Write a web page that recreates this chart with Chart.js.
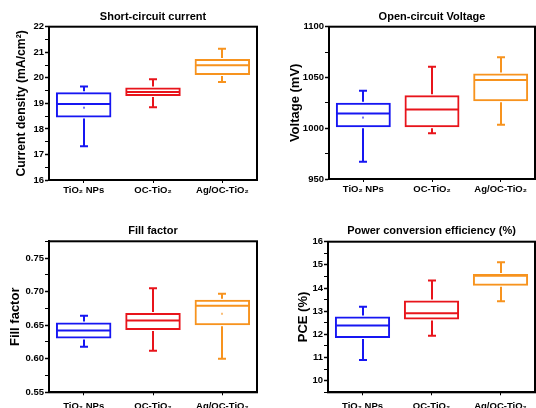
<!DOCTYPE html>
<html>
<head>
<meta charset="utf-8">
<script src="https://cdn.jsdelivr.net/npm/chart.js@4.4.1/dist/chart.umd.min.js"></script>
<style>
  html, body { margin: 0; padding: 0; background: #fff; }
  body { width: 536px; height: 408px; position: relative; overflow: hidden; }
  canvas { position: absolute; }
</style>
</head>
<body>
<canvas id="jsc" width="268" height="204" style="left:0;top:0"></canvas>
<canvas id="voc" width="268" height="204" style="left:268px;top:0"></canvas>
<canvas id="ff" width="268" height="222" style="left:0;top:204px"></canvas>
<canvas id="pce" width="268" height="222" style="left:268px;top:204px"></canvas>
<script>
const groups = ["TiO₂ NPs", "OC-TiO₂", "Ag/OC-TiO₂"]
const colors = ["#1616f2", "#e8141b", "#f7931e"]

// short-circuit current (mA/cm2)
const jscMin = [17.32, 18.85, 19.84]
const jscQ1 = [18.45, 19.29, 20.11]
const jscMedian = [18.97, 19.44, 20.49]
const jscQ3 = [19.43, 19.62, 20.74]
const jscMax = [19.66, 19.94, 21.14]
const jscMean = [18.83, null, null]
const jscTicks = [16, 17, 18, 19, 20, 21, 22]

// open-circuit voltage (mV)
const vocMin = [967, 995, 1003.5]
const vocQ1 = [1001, 1001, 1026.5]
const vocMedian = [1014.5, 1018.5, 1047.5]
const vocQ3 = [1025, 1032.5, 1054]
const vocMax = [1037, 1060.5, 1070]
const vocMean = [1010.5, null, null]
const vocTicks = [950, 1000, 1050, 1100]

// fill factor
const ffMin = [0.618, 0.612, 0.600]
const ffQ1 = [0.630, 0.643, 0.650]
const ffMedian = [0.642, 0.657, 0.679]
const ffQ3 = [0.654, 0.668, 0.688]
const ffMax = [0.664, 0.705, 0.697]
const ffMean = [null, null, 0.667]
const ffTicks = [0.55, 0.60, 0.65, 0.70, 0.75]

// power conversion efficiency (%)
const pceMin = [10.89, 11.94, 13.43]
const pceQ1 = [11.84, 12.64, 14.10]
const pceMedian = [12.38, 12.91, 14.53]
const pceQ3 = [12.77, 13.46, 14.61]
const pceMax = [13.19, 14.32, 15.11]
const pceMean = [null, null, null]
const pceTicks = [10, 11, 12, 13, 14, 15, 16]

const fontFamily = "'Liberation Sans', Arial, sans-serif"

const boxPlugin = {
    id: "boxes",
    afterDatasetsDraw(chart) {
        const p = chart.options.plugins.boxes
        const ctx = chart.ctx
        const a = chart.chartArea
        const y = chart.scales.y
        const meta = chart.getDatasetMeta(0)
        ctx.save()
        ctx.lineWidth = 2
        ctx.lineCap = "butt"
        meta.data.forEach((bar, i) => {
            const cx = Math.round(bar.x)
            const half = bar.width / 2
            const cap = 4
            const yq1 = y.getPixelForValue(p.q1[i])
            const yq3 = y.getPixelForValue(p.q3[i])
            const ymed = y.getPixelForValue(p.median[i])
            const ymin = y.getPixelForValue(p.min[i])
            const ymax = y.getPixelForValue(p.max[i])
            ctx.strokeStyle = colors[i]
            ctx.beginPath()
            ctx.moveTo(cx - half + 1, ymed); ctx.lineTo(cx + half - 1, ymed)
            ctx.moveTo(cx, yq3 - 1); ctx.lineTo(cx, ymax)
            ctx.moveTo(cx, yq1 + 1); ctx.lineTo(cx, ymin)
            ctx.moveTo(cx - cap, ymax); ctx.lineTo(cx + cap, ymax)
            ctx.moveTo(cx - cap, ymin); ctx.lineTo(cx + cap, ymin)
            ctx.stroke()
            if (p.mean[i] != null) {
                ctx.fillStyle = colors[i]
                ctx.globalAlpha = 0.6
                ctx.fillRect(cx - 1, y.getPixelForValue(p.mean[i]) - 1, 2, 2)
                ctx.globalAlpha = 1
            }
        })
        ctx.strokeStyle = "#000"
        ctx.strokeRect(a.left, a.top, a.right - a.left, a.bottom - a.top)
        ctx.restore()
    }
}

function makeChart(id, cfg) {
    const majors = cfg.ticks
    new Chart(document.getElementById(id), {
        type: "bar",
        data: {
            labels: groups,
            datasets: [{
                data: cfg.q1.map((v, i) => [v, cfg.q3[i]]),
                backgroundColor: "rgba(255,255,255,0)",
                borderColor: colors,
                borderWidth: 2,
                borderSkipped: false,
                barPercentage: 0.8,
                categoryPercentage: 1
            }]
        },
        options: {
            responsive: false,
            animation: false,
            devicePixelRatio: 1,
            layout: { padding: { left: 0, right: cfg.padRight, top: 0, bottom: 0 } },
            plugins: {
                legend: { display: false },
                tooltip: { enabled: false },
                title: {
                    display: true,
                    text: cfg.title,
                    fullSize: false,
                    color: "#000",
                    font: { family: fontFamily, size: 11, weight: "bold", lineHeight: 1.2 },
                    padding: { top: cfg.titleTop, bottom: cfg.titleBottom }
                },
                boxes: { min: cfg.min, q1: cfg.q1, median: cfg.median, q3: cfg.q3, max: cfg.max, mean: cfg.mean }
            },
            scales: {
                x: {
                    grid: { display: true, offset: false, drawOnChartArea: false, drawTicks: true, tickLength: 3, color: "#000", tickWidth: 1 },
                    border: { display: true, color: "#000", width: 2 },
                    ticks: { color: "#000", padding: cfg.xPad, font: { family: fontFamily, size: 9.5, weight: "bold" }, maxRotation: 0, autoSkip: false },
                    afterFit: axis => { axis.height = cfg.xHeight }
                },
                y: {
                    min: cfg.yMin,
                    max: cfg.yMax,
                    grid: {
                        display: true, drawOnChartArea: false, drawTicks: true, tickLength: 4, color: "#000",
                        tickWidth: c => majors.some(m => Math.abs(m - c.tick.value) < 1e-6) ? 1.5 : 1
                    },
                    border: { display: true, color: "#000", width: 2 },
                    ticks: {
                        stepSize: cfg.step,
                        maxTicksLimit: 100,
                        autoSkip: false,
                        color: "#000",
                        padding: 1,
                        font: { family: fontFamily, size: 9.5, weight: "bold" },
                        callback: v => {
                            const m = majors.find(t => Math.abs(t - v) < 1e-6)
                            return m === undefined ? "" : m.toFixed(cfg.decimals)
                        }
                    },
                    title: {
                        display: true,
                        text: cfg.yTitle,
                        color: "#000",
                        font: { family: fontFamily, size: cfg.yTitleSize, weight: "bold", lineHeight: 1.2 },
                        padding: { top: cfg.yTitlePad, bottom: 0 }
                    },
                    afterFit: axis => { axis.width = cfg.yWidth }
                }
            }
        },
        plugins: [boxPlugin]
    })
}

makeChart("jsc", {
    title: "Short-circuit current", yTitle: "Current density (mA/cm²)",
    min: jscMin, q1: jscQ1, median: jscMedian, q3: jscQ3, max: jscMax, mean: jscMean, ticks: jscTicks,
    yMin: 16, yMax: 22, step: 0.5, decimals: 0,
    yWidth: 49, padRight: 11, titleTop: 10.4, titleBottom: 3.1, xHeight: 24, xPad: 2, yTitlePad: 14.5, yTitleSize: 12.2
})
makeChart("voc", {
    title: "Open-circuit Voltage", yTitle: "Voltage (mV)",
    min: vocMin, q1: vocQ1, median: vocMedian, q3: vocQ3, max: vocMax, mean: vocMean, ticks: vocTicks,
    yMin: 950, yMax: 1100, step: 25, decimals: 0,
    yWidth: 61, padRight: 1, titleTop: 10.4, titleBottom: 3.1, xHeight: 25, xPad: 2, yTitlePad: 20, yTitleSize: 13
})
makeChart("ff", {
    title: "Fill factor", yTitle: "Fill factor",
    min: ffMin, q1: ffQ1, median: ffMedian, q3: ffQ3, max: ffMax, mean: ffMean, ticks: ffTicks,
    yMin: 0.55, yMax: 0.775, step: 0.025, decimals: 2,
    yWidth: 49, padRight: 11, titleTop: 20.1, titleBottom: 4, xHeight: 33.7, xPad: 5, yTitlePad: 7.5, yTitleSize: 13
})
makeChart("pce", {
    title: "Power conversion efficiency (%)", yTitle: "PCE (%)",
    min: pceMin, q1: pceQ1, median: pceMedian, q3: pceQ3, max: pceMax, mean: pceMean, ticks: pceTicks,
    yMin: 9.5, yMax: 16, step: 0.5, decimals: 0,
    yWidth: 60, padRight: 1, titleTop: 20.1, titleBottom: 4.4, xHeight: 33.7, xPad: 5, yTitlePad: 28, yTitleSize: 13
})
</script>
</body>
</html>
